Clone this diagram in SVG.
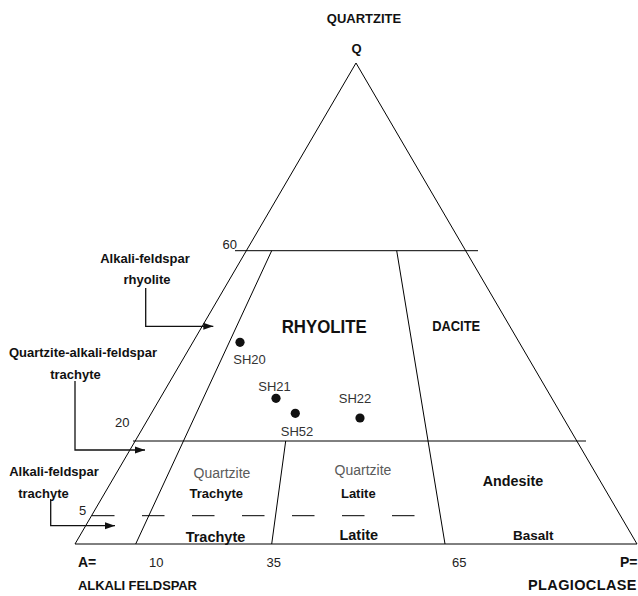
<svg xmlns="http://www.w3.org/2000/svg" width="638" height="596" viewBox="0 0 638 596">
<style>
.ln{stroke:#000;stroke-width:1;fill:none}
.ar{stroke:#111;stroke-width:1.3;fill:none}
.b{font-family:"Liberation Sans",Arial,sans-serif;font-weight:bold;fill:#111}
.n{font-family:"Liberation Sans",Arial,sans-serif;fill:#222;font-size:13px}
.sh{font-family:"Liberation Sans",Arial,sans-serif;fill:#333;font-size:13px}
.q{font-family:"Liberation Sans",Arial,sans-serif;fill:#5a5a5a;font-size:14px}
.dot{fill:#111}
</style>
<defs>
<marker id="ah" markerUnits="userSpaceOnUse" markerWidth="12" markerHeight="8" refX="10" refY="4" orient="auto">
<path d="M0,0.5 L10,4 L0,7.5 Z" fill="#111"/>
</marker>
</defs>
<g id="triangle">
<polygon class="ln" points="356,63 75,544 637,544"/>
<line class="ln" x1="235" y1="250.7" x2="478" y2="250.7"/>
<line class="ln" x1="133" y1="441" x2="586" y2="441"/>
<line class="ln" x1="271.7" y1="250.7" x2="135.7" y2="544"/>
<line class="ln" x1="396.7" y1="250.7" x2="445" y2="544"/>
<line class="ln" x1="285.7" y1="441" x2="271.7" y2="544"/>
<line class="ln" x1="92" y1="515.7" x2="417" y2="515.7" stroke-dasharray="22.5 27.5"/>
</g>
<g id="connectors">
<polyline class="ar" points="145.7,288 145.7,326.3 213.3,326.3" marker-end="url(#ah)"/>
<polyline class="ar" points="75,381 75,450 145,450" marker-end="url(#ah)"/>
<polyline class="ar" points="50.7,499 50.7,525.7 115,525.7" marker-end="url(#ah)"/>
</g>
<g id="axis-labels">
<text class="b" x="364" y="23" font-size="13" text-anchor="middle">QUARTZITE</text>
<text class="b" x="356.5" y="53" font-size="13" text-anchor="middle">Q</text>
<text class="b" x="78" y="566.5" font-size="14">A=</text>
<text class="b" x="78" y="590" font-size="13" textLength="119">ALKALI FELDSPAR</text>
<text class="b" x="620" y="566.5" font-size="14">P=</text>
<text class="b" x="528" y="590" font-size="14.5" textLength="108.5">PLAGIOCLASE</text>
</g>
<g id="ticks">
<text class="n" x="222.5" y="249">60</text>
<text class="n" x="115" y="427">20</text>
<text class="n" x="79" y="515">5</text>
<text class="n" x="149" y="566.5">10</text>
<text class="n" x="266.5" y="566.5">35</text>
<text class="n" x="452" y="566.5">65</text>
</g>
<g id="side-labels">
<text class="b" x="145" y="262.5" font-size="13" text-anchor="middle">Alkali-feldspar</text>
<text class="b" x="147" y="284" font-size="13" text-anchor="middle">rhyolite</text>
<text class="b" x="83" y="356.7" font-size="13" text-anchor="middle">Quartzite-alkali-feldspar</text>
<text class="b" x="75.5" y="379.3" font-size="13" text-anchor="middle">trachyte</text>
<text class="b" x="54" y="475.7" font-size="13" text-anchor="middle">Alkali-feldspar</text>
<text class="b" x="43.5" y="497.7" font-size="13" text-anchor="middle">trachyte</text>
</g>
<g id="fields">
<text class="b" x="324.2" y="333.3" font-size="19" text-anchor="middle" textLength="85" lengthAdjust="spacingAndGlyphs">RHYOLITE</text>
<text class="b" x="456.2" y="330.7" font-size="14" text-anchor="middle" textLength="48" lengthAdjust="spacingAndGlyphs">DACITE</text>
<text class="q" x="222" y="478.3" text-anchor="middle">Quartzite</text>
<text class="b" x="216.3" y="498.3" font-size="13" text-anchor="middle">Trachyte</text>
<text class="b" x="215.5" y="541.7" font-size="14.5" text-anchor="middle">Trachyte</text>
<text class="q" x="363" y="475" text-anchor="middle">Quartzite</text>
<text class="b" x="358.3" y="498.3" font-size="13" text-anchor="middle">Latite</text>
<text class="b" x="358.8" y="540" font-size="14.5" text-anchor="middle">Latite</text>
<text class="b" x="513" y="485.7" font-size="14.3" text-anchor="middle">Andesite</text>
<text class="b" x="533.3" y="540" font-size="13.5" text-anchor="middle">Basalt</text>
</g>
<g id="samples">
<g id="SH20"><circle class="dot" cx="240" cy="342.3" r="4.6"/><text class="sh" x="249.5" y="364.3" text-anchor="middle">SH20</text></g>
<g id="SH21"><circle class="dot" cx="276" cy="398.3" r="4.6"/><text class="sh" x="274.5" y="390.7" text-anchor="middle">SH21</text></g>
<g id="SH52"><circle class="dot" cx="295.3" cy="413.3" r="4.6"/><text class="sh" x="297" y="435.7" text-anchor="middle">SH52</text></g>
<g id="SH22"><circle class="dot" cx="360" cy="418" r="4.6"/><text class="sh" x="355" y="403.3" text-anchor="middle">SH22</text></g>
</g>
</svg>
